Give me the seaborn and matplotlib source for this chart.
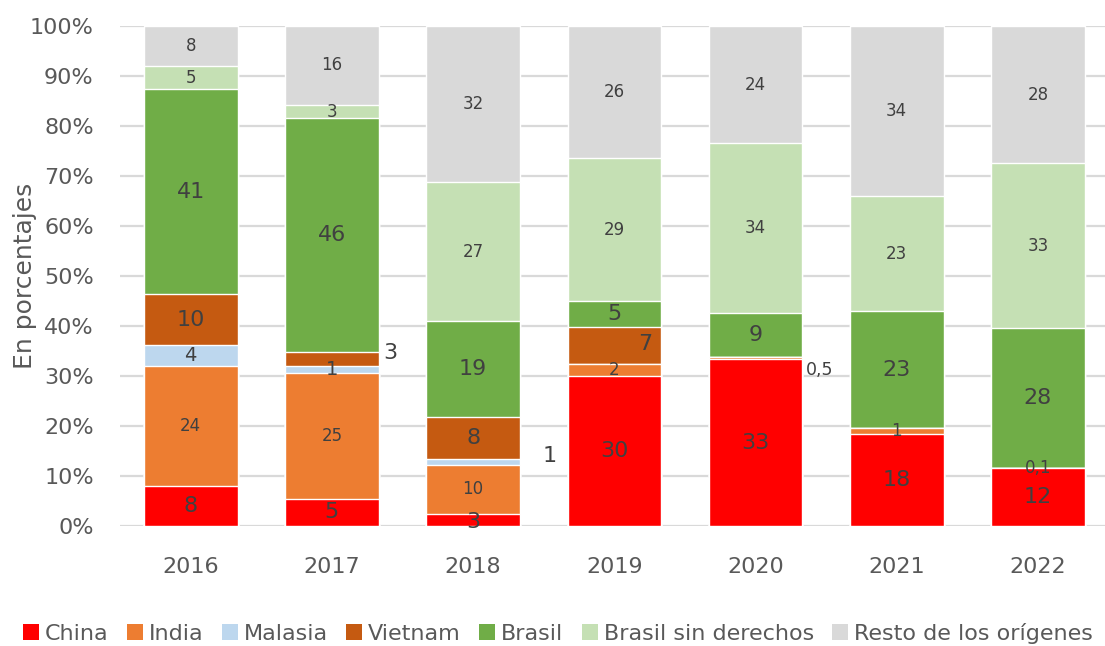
import matplotlib
matplotlib.use("Agg")
import matplotlib.pyplot as plt
from matplotlib.patches import Patch
import seaborn as sns
import numpy as np
import pandas as pd

# Datos (porcentajes por origen y año)
years = ["2016", "2017", "2018", "2019", "2020", "2021", "2022"]
series = ["China", "India", "Malasia", "Vietnam", "Brasil",
          "Brasil sin derechos", "Resto de los orígenes"]

china = [7.9, 5.4, 2.4, 30.0, 33.3, 18.3, 11.5]
india = [24.0, 25.1, 9.8, 2.4, 0.5, 1.2, 0.1]
malasia = [4.2, 1.4, 1.2, 0.0, 0.0, 0.0, 0.0]
vietnam = [10.2, 2.9, 8.4, 7.3, 0.0, 0.0, 0.0]
brasil = [41.0, 46.7, 19.2, 5.3, 8.7, 23.4, 27.9]
brasil_sd = [4.7, 2.7, 27.7, 28.5, 34.0, 23.0, 33.0]
resto = [8.0, 15.8, 31.3, 26.5, 23.5, 34.1, 27.5]

# Etiquetas tal como aparecen en el gráfico
lab_china = ["8", "5", "3", "30", "33", "18", "12"]
lab_india = ["24", "25", "10", "2", "0,5", "1", "0,1"]
lab_malasia = ["4", "1", "1", "", "", "", ""]
lab_vietnam = ["10", "3", "8", "7", "", "", ""]
lab_brasil = ["41", "46", "19", "5", "9", "23", "28"]
lab_brasil_sd = ["5", "3", "27", "29", "34", "23", "33"]
lab_resto = ["8", "16", "32", "26", "24", "34", "28"]

colors = ["#FF0000", "#ED7D31", "#BDD7EE", "#C55A11", "#70AD47", "#C5E0B4", "#D9D9D9"]
label_sizes = [16, 12, 14, 16, 16, 12, 12]

values = [china, india, malasia, vietnam, brasil, brasil_sd, resto]
labels = [lab_china, lab_india, lab_malasia, lab_vietnam, lab_brasil, lab_brasil_sd, lab_resto]

# Etiquetas desplazadas fuera del segmento: (serie, año) -> (dx, y, ha, size)
label_tweaks = {
    (3, 1): (0.36, 34.6, "left", 16),
    (2, 2): (0.49, 14.0, "left", 16),
    (1, 4): (0.355, 31.2, "left", 12.5),
    (3, 3): (0.22, 36.3, "center", 16),
    (0, 2): (0.0, 0.8, "center", 16),
}

sns.set_style("white")
plt.rcParams["font.family"] = ["DejaVu Sans"]

fig = plt.figure(figsize=(11.05, 6.46), dpi=100)
ax = fig.add_axes([0.1087, 0.1858, 0.8945, 0.774])

df = pd.DataFrame(np.array(values).T, columns=series)
df["year"] = years
cum = df[series].cumsum(axis=1)

# Barras apiladas: se dibuja la suma acumulada de arriba hacia abajo
for i in range(len(series) - 1, -1, -1):
    sns.barplot(x=df["year"], y=cum[series[i]], color=colors[i], saturation=1,
                width=0.663, ax=ax, zorder=2)

# Etiquetas de datos
for i, s in enumerate(series):
    for j in range(len(years)):
        txt = labels[i][j]
        if not txt:
            continue
        if (i, j) in label_tweaks:
            dx, y, ha, size = label_tweaks[(i, j)]
        else:
            dx, y, ha, size = 0.0, cum[s][j] - values[i][j] / 2, "center", label_sizes[i]
        ax.text(j + dx, y, txt, ha=ha, va="center", fontsize=size, color="#404040", zorder=5)

ax.set_xlim(-0.5, 6.5)
ax.set_ylim(0, 100)
ax.set_yticks(range(0, 101, 10))
ax.set_yticklabels([f"{v}%" for v in range(0, 101, 10)])
ax.yaxis.grid(True, color="#D9D9D9", lw=1.6)
ax.set_axisbelow(True)
for sp in ax.spines.values():
    sp.set_visible(False)
ax.tick_params(axis="both", length=0, labelsize=16, colors="#595959")
ax.tick_params(axis="x", pad=22)
ax.tick_params(axis="y", pad=19)
ax.set_xlabel("")
ax.set_ylabel("En porcentajes", fontsize=18, color="#595959")
ax.yaxis.set_label_coords(-0.084, 0.5)

handles = [Patch(facecolor=c, edgecolor="none") for c in colors]
fig.legend(handles, series, loc="center left", bbox_to_anchor=(0.021, 0.02),
           ncol=7, frameon=False, fontsize=16, labelcolor="#595959",
           handlelength=0.72, handleheight=0.72, handletextpad=0.27,
           columnspacing=0.82, borderaxespad=0, borderpad=0)

plt.savefig("out.png", dpi=100)
